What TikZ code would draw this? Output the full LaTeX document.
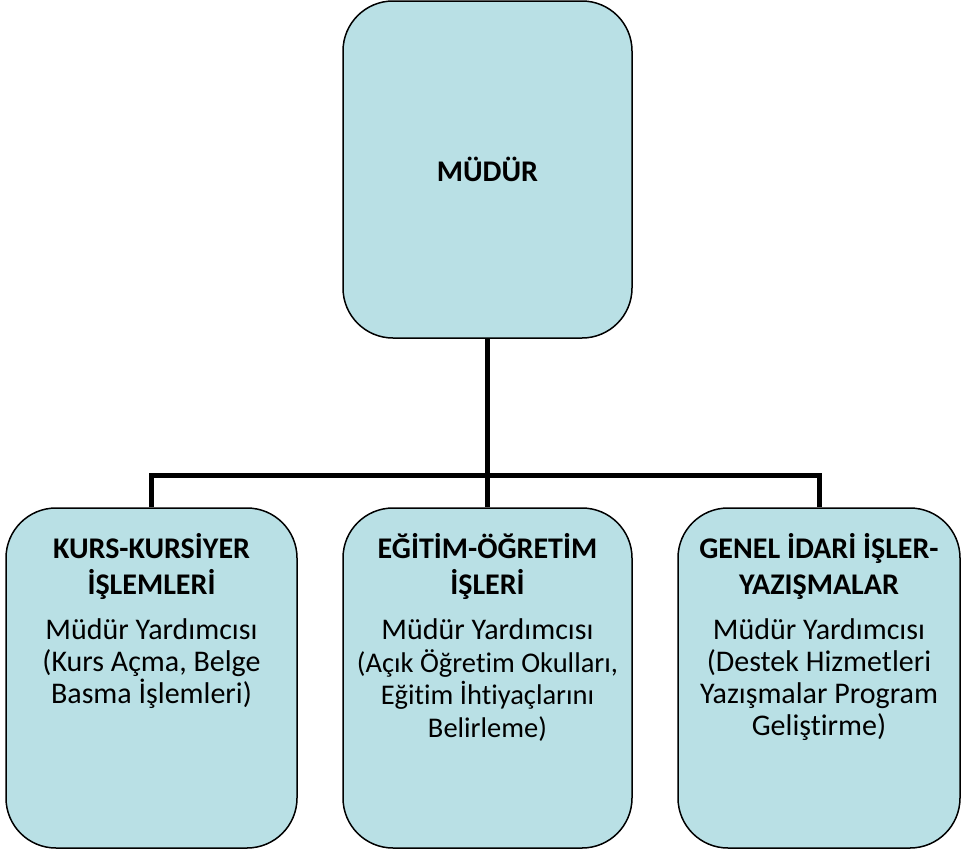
\documentclass[tikz,border=0pt]{standalone}
\usepackage{fontspec}
\setmainfont{Carlito}[Ligatures={NoCommon}]
\usetikzlibrary{positioning}
\definecolor{boxfill}{HTML}{B9E0E5}
\newcommand{\boxwidth}{291pt}
\newcommand{\boxheight}{340pt}
\newcommand{\smallduty}{\fontsize{28.5}{32.5}\selectfont}
\tikzstyle{unit}=[draw, fill=boxfill, rounded corners=50pt, line width=1.5pt, inner sep=0, minimum width=\boxwidth, minimum height=\boxheight]
\tikzstyle{title}=[align=center, inner sep=0, anchor=north, font=\fontsize{30}{36}\selectfont\bfseries]
\tikzstyle{duty}=[align=center, inner sep=0, anchor=north, font=\fontsize{30}{32}\selectfont]
\tikzstyle{dutysmall}=[duty, font=\fontsize{30}{32.5}\selectfont]
\tikzstyle{link}=[-, line width=5pt]

\begin{document}
\begin{tikzpicture}[x=1pt, y=-1pt]
  \useasboundingbox (0,0) rectangle (961,854);

  \node[unit, minimum width=289pt, minimum height=337pt, font=\fontsize{30}{36}\selectfont\bfseries] (mudur) at (487.5,169.5) {MÜDÜR};

  \node[unit] (kurs) at (151.5,678) {};
  \node[unit, minimum width=289pt] (egitim) at (487.5,678) {};
  \node[unit, minimum width=282pt] (genel) at (819,678) {};

  \node[title] (kursT) at (151.5,533.5) {KURS-KURSİYER\\İŞLEMLERİ};
  \node[title] (egitimT) at (487.5,533.5) {EĞİTİM-ÖĞRETİM\\İŞLERİ};
  \node[title] (genelT) at (819,533.5) {GENEL İDARİ İŞLER-\\YAZIŞMALAR};

  \node[duty] (kursD) at (151.5,618.5) {Müdür Yardımcısı\\(Kurs Açma, Belge\\Basma İşlemleri)};
  \node[dutysmall] (egitimD) at (487.5,618.5) {Müdür Yardımcısı\\\smallduty(Açık Öğretim Okulları,\\\smallduty Eğitim İhtiyaçlarını\\\smallduty Belirleme)};
  \node[duty] (genelD) at (819,618.5) {Müdür Yardımcısı\\(Destek Hizmetleri\\Yazışmalar Program\\Geliştirme)};

  \coordinate (bus) at (487.5,475);

  \draw[link] (mudur) -- (egitim);
  \draw[link] (kurs.north) |- (bus) -| (genel.north);

\end{tikzpicture}
\end{document}
